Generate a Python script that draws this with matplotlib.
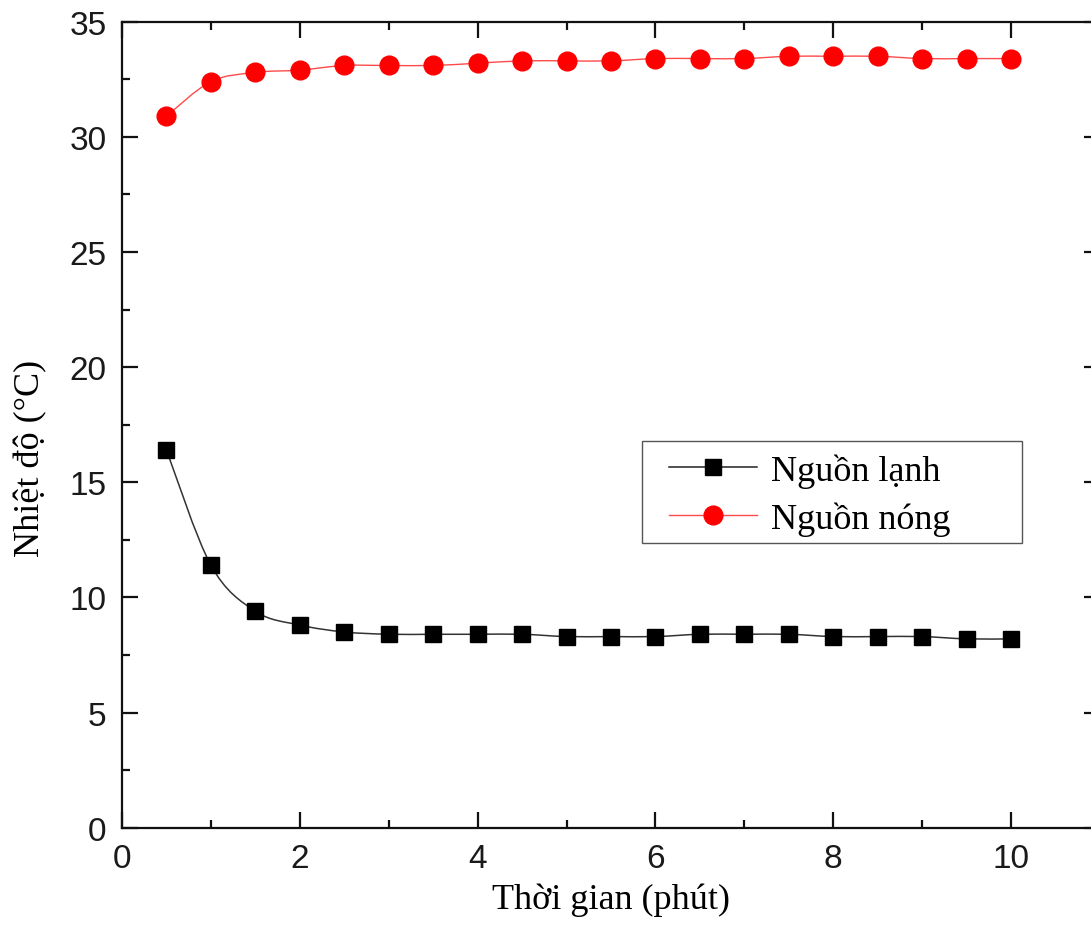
import numpy as np
import matplotlib
matplotlib.use("Agg")
import matplotlib.pyplot as plt
from matplotlib.path import Path
from matplotlib.patches import PathPatch, Rectangle
from matplotlib.lines import Line2D
from matplotlib.ticker import MultipleLocator

# dữ liệu
time_min = [0.5, 1.0, 1.5, 2.0, 2.5, 3.0, 3.5, 4.0, 4.5, 5.0,
            5.5, 6.0, 6.5, 7.0, 7.5, 8.0, 8.5, 9.0, 9.5, 10.0]
cold_src = [16.4, 11.4, 9.4, 8.8, 8.5, 8.4, 8.4, 8.4, 8.4, 8.3,
            8.3, 8.3, 8.4, 8.4, 8.4, 8.3, 8.3, 8.3, 8.2, 8.2]
hot_src = [30.9, 32.4, 32.8, 32.9, 33.1, 33.1, 33.1, 33.2, 33.3, 33.3,
           33.3, 33.4, 33.4, 33.4, 33.5, 33.5, 33.5, 33.4, 33.4, 33.4]
labels = ["Nguồn lạnh", "Nguồn nóng"]

SANS, SERIF = "Liberation Sans", "Liberation Serif"


def spline_path(x, y):
    # đường nối trơn kiểu Catmull-Rom qua đúng các điểm đo
    n = len(x)
    verts, codes = [(x[0], y[0])], [Path.MOVETO]
    for i in range(n - 1):
        a = max(i - 1, 0)
        b = min(i + 2, n - 1)
        c1 = (x[i] + (x[i + 1] - x[a]) / 6, y[i] + (y[i + 1] - y[a]) / 6)
        c2 = (x[i + 1] - (x[b] - x[i]) / 6, y[i + 1] - (y[b] - y[i]) / 6)
        verts += [c1, c2, (x[i + 1], y[i + 1])]
        codes += [Path.CURVE4] * 3
    return Path(verts, codes)


fig = plt.figure(figsize=(10.91, 9.28), dpi=100, facecolor="white")
ax = fig.add_axes([0.1118, 0.107, 0.8964, 0.8685])
ax.set_xlim(0, 11)
ax.set_ylim(0, 35)

ax.add_patch(PathPatch(spline_path(time_min, cold_src), fill=False,
                       edgecolor="#333333", lw=1.1, zorder=2))
ax.add_patch(PathPatch(spline_path(time_min, hot_src), fill=False,
                       edgecolor="#ff4a4a", lw=1.0, zorder=2))
ax.plot(time_min, cold_src, ls="none", marker="s", ms=11, color="black", zorder=3)
ax.plot(time_min, hot_src, ls="none", marker="o", ms=13.5, color="#ff0000", zorder=3)

ax.xaxis.set_major_locator(MultipleLocator(2))
ax.xaxis.set_minor_locator(MultipleLocator(1))
ax.yaxis.set_major_locator(MultipleLocator(5))
ax.yaxis.set_minor_locator(MultipleLocator(2.5))
ax.tick_params(which="both", direction="in", top=True, right=True, width=1.6, color="#111111")
ax.tick_params(which="major", length=11.5, pad=11, labelsize=24)
ax.tick_params(which="minor", length=6)
for lab in ax.get_xticklabels() + ax.get_yticklabels():
    lab.set_fontfamily(SANS)
    lab.set_color("#1a1a1a")
for s in ax.spines.values():
    s.set_linewidth(1.6)
    s.set_color("#111111")

ax.set_xlabel("Thời gian (phút)", fontsize=26, family=SERIF, labelpad=6)
ax.set_ylabel("Nhiệt độ (°C)", fontsize=26, family=SERIF)
ax.yaxis.set_label_coords(-0.076, 0.459)

handles = [Line2D([0], [0], color="#222222", lw=1.1, marker="s", ms=11, mfc="black", mec="black"),
           Line2D([0], [0], color="#ff4a4a", lw=1.0, marker="o", ms=13.5, mfc="#ff0000", mec="#ff0000")]
leg = ax.legend(handles, labels, loc="upper left", bbox_to_anchor=(0.5464, 0.480),
                prop={"family": SERIF, "size": 26}, handlelength=2.45, handletextpad=0.38,
                labelspacing=0.37, borderpad=0.35, frameon=False, borderaxespad=0)
# khung chú thích rộng như bản gốc
ax.add_patch(Rectangle((0.532, 0.353), 0.388, 0.127, transform=ax.transAxes, fill=False,
                       edgecolor="#555555", lw=1.0, zorder=4))

fig.savefig("out.png", dpi=100)
